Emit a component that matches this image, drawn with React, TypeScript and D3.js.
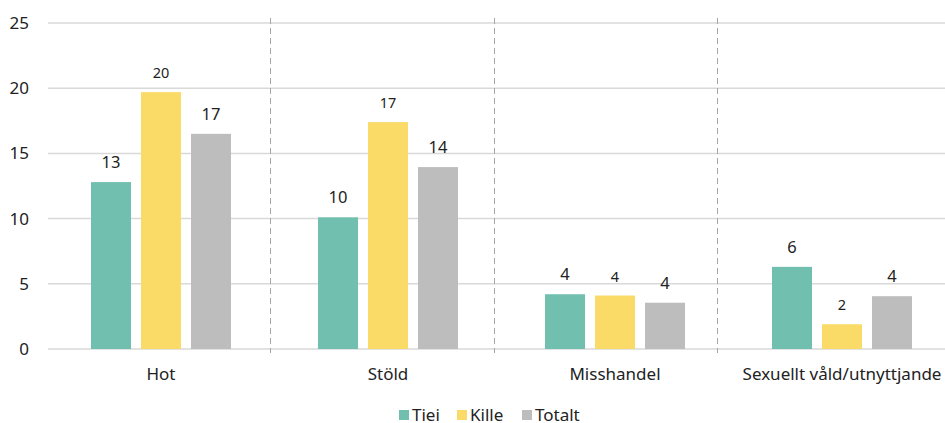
import React, { useEffect, useRef } from "react";
import * as d3 from "d3";

const categories = ["Hot", "Stöld", "Misshandel", "Sexuellt våld/utnyttjande"];
const seriesNames = ["Tiei", "Kille", "Totalt"];
const tieiValues = [12.8, 10.1, 4.2, 6.3];
const killeValues = [19.7, 17.4, 4.1, 1.9];
const totaltValues = [16.5, 13.95, 3.55, 4.05];
const tieiLabels = ["13", "10", "4", "6"];
const killeLabels = ["20", "17", "4", "2"];
const totaltLabels = ["17", "14", "4", "4"];
const yTicks = [0, 5, 10, 15, 20, 25];

const colors = ["#71bfaf", "#fadb67", "#bdbdbd"];
const labelSizes = [16.5, 14.5, 16.5];
const font = "'Noto Sans', 'Open Sans', sans-serif";

export default function App() {
  const ref = useRef<SVGSVGElement>(null);

  useEffect(() => {
    const width = 945;
    const height = 423;
    const margin = { top: 23, bottom: 74, left: 48 };

    const svg = d3.select(ref.current!);
    svg.selectAll("*").remove();
    svg.attr("width", width).attr("height", height);

    // frame scale for the dashed separators
    const frame = d3
      .scaleBand<string>()
      .domain(categories)
      .range([margin.left, 941])
      .padding(0);

    // group scale for the bars and category labels (slightly wider step)
    const x = d3
      .scaleBand<string>()
      .domain(categories)
      .range([47.5, 955.5])
      .padding(0);

    const inner = d3
      .scaleBand<string>()
      .domain(seriesNames)
      .range([0, 150])
      .paddingInner(0.2)
      .paddingOuter(0.1);

    const y = d3
      .scaleLinear()
      .domain([0, 25])
      .range([height - margin.bottom, margin.top]);

    const groupLeft = (c: string) => x(c)! + x.bandwidth() / 2 - 75;

    // gridlines
    svg
      .append("g")
      .selectAll("line")
      .data(yTicks)
      .join("line")
      .attr("x1", margin.left)
      .attr("x2", width)
      .attr("y1", (d) => y(d))
      .attr("y2", (d) => y(d))
      .attr("stroke", "#d9d9d9")
      .attr("stroke-width", 1.5);

    // y tick labels
    svg
      .append("g")
      .selectAll("text")
      .data(yTicks)
      .join("text")
      .attr("x", 29)
      .attr("y", (d) => y(d))
      .attr("dy", "0.35em")
      .attr("text-anchor", "end")
      .attr("font-family", font)
      .attr("font-size", 17)
      .attr("fill", "#222")
      .text((d) => d);

    // category dividers
    svg
      .append("g")
      .selectAll("line")
      .data(categories.slice(1))
      .join("line")
      .attr("x1", (d) => Math.round(frame(d)!) - 0.5)
      .attr("x2", (d) => Math.round(frame(d)!) - 0.5)
      .attr("y1", 18)
      .attr("y2", y(0) + 4)
      .attr("stroke", "#a6a6a6")
      .attr("stroke-width", 1)
      .attr("stroke-dasharray", "6,4");

    const series = [tieiValues, killeValues, totaltValues];
    const labels = [tieiLabels, killeLabels, totaltLabels];

    series.forEach((vals, si) => {
      const name = seriesNames[si];
      const g = svg.append("g");
      g.selectAll("rect")
        .data(vals)
        .join("rect")
        .attr("x", (_, i) => groupLeft(categories[i]) + inner(name)!)
        .attr("y", (d) => y(d))
        .attr("width", inner.bandwidth())
        .attr("height", (d) => y(0) - y(d))
        .attr("fill", colors[si]);

      g.selectAll("text")
        .data(vals)
        .join("text")
        .attr("x", (_, i) => groupLeft(categories[i]) + inner(name)! + inner.bandwidth() / 2)
        .attr("y", (d) => y(d) - 14)
        .attr("text-anchor", "middle")
        .attr("font-family", font)
        .attr("font-size", labelSizes[si])
        .attr("fill", "#222")
        .text((_, i) => labels[si][i]);
    });

    // category labels
    svg
      .append("g")
      .selectAll("text")
      .data(categories)
      .join("text")
      .attr("x", (d) => x(d)! + x.bandwidth() / 2)
      .attr("y", 380)
      .attr("text-anchor", "middle")
      .attr("font-family", font)
      .attr("font-size", 17)
      .attr("fill", "#222")
      .text((d) => d);

    // legend
    const legendX = [399, 457, 522];
    const legend = svg
      .append("g")
      .selectAll("g")
      .data(seriesNames)
      .join("g")
      .attr("transform", (_, i) => `translate(${legendX[i]},0)`);
    legend
      .append("rect")
      .attr("x", 0)
      .attr("y", 410)
      .attr("width", 10)
      .attr("height", 10)
      .attr("fill", (_, i) => colors[i]);
    legend
      .append("text")
      .attr("x", 13)
      .attr("y", 421)
      .attr("font-family", font)
      .attr("font-size", 17)
      .attr("fill", "#222")
      .text((d) => d);
  }, []);

  return (
    <svg
      ref={ref}
      style={{ position: "absolute", left: 0, top: 0, display: "block", background: "#fff" }}
    />
  );
}
